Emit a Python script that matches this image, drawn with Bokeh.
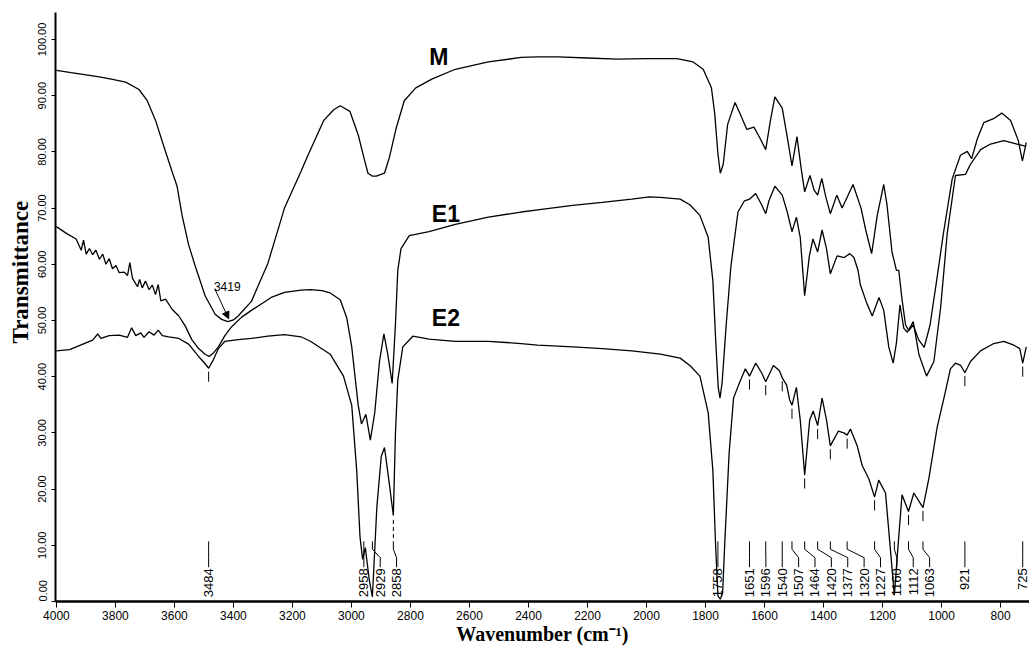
import math
from bokeh.plotting import figure
from bokeh.models import Range1d, FixedTicker, NumeralTickFormatter, Label, Arrow, NormalHead, Title
from bokeh.embed import file_html
from bokeh.resources import INLINE
from bokeh.core.properties import value

# ---------------- data ----------------
m_wn = [4000, 3950, 3899, 3850, 3810, 3765, 3720, 3692, 3664, 3636, 3608, 3591, 3574, 3552, 3529, 3496,
        3462, 3440, 3419, 3400, 3384, 3339, 3283, 3227, 3171, 3150, 3094, 3060, 3038, 3005, 2977, 2955,
        2944, 2930, 2916, 2888, 2871, 2848, 2821, 2782, 2726, 2648, 2536, 2425, 2369, 2300, 2200, 2100,
        2000, 1953, 1897, 1842, 1808, 1780, 1769, 1758, 1750, 1740, 1725, 1700, 1684, 1660, 1636, 1614,
        1596, 1580, 1565, 1540, 1522, 1507, 1490, 1476, 1464, 1446, 1432, 1420, 1406, 1392, 1377, 1355,
        1337, 1300, 1273, 1257, 1237, 1218, 1196, 1185, 1168, 1153, 1145, 1134, 1122, 1111, 1096, 1078,
        1059, 1039, 1017, 994, 964, 936, 913, 898, 879, 857, 824, 796, 766, 740, 726, 713]
m_t = [94.5, 94.1, 93.7, 93.3, 92.9, 92.4, 91.1, 89.1, 85.6, 81.0, 76.5, 73.9, 68.7, 63.5, 59.6, 54.4,
       51.1, 50.2, 49.8, 50.1, 50.8, 53.4, 60.2, 70.0, 76.5, 79.1, 85.6, 87.5, 88.2, 87.2, 83.0, 78.4,
       76.2, 75.7, 75.7, 76.2, 79.1, 84.3, 89.1, 91.4, 93.0, 94.7, 96.0, 96.8, 96.9, 96.9, 96.7, 96.5,
       96.6, 96.6, 96.6, 96.0, 94.7, 91.4, 86.9, 79.7, 76.2, 77.8, 84.9, 88.8, 86.9, 84.0, 84.4, 82.3,
       80.4, 85.6, 89.8, 87.8, 82.3, 77.5, 82.7, 77.1, 72.9, 75.8, 73.2, 72.3, 75.3, 71.9, 69.0, 72.3,
       70.0, 74.2, 70.0, 66.1, 61.9, 68.7, 74.2, 70.6, 62.2, 58.9, 58.9, 53.7, 49.2, 48.2, 49.2, 46.6,
       45.2, 49.2, 57.0, 65.4, 75.2, 79.4, 80.1, 78.8, 82.3, 85.2, 85.9, 86.9, 85.6, 82.0, 78.4, 81.7]

e1_wn = [4000, 3966, 3933, 3916, 3908, 3899, 3888, 3877, 3866, 3854, 3843, 3832, 3821, 3810, 3798, 3787,
         3770, 3759, 3751, 3742, 3725, 3718, 3709, 3698, 3686, 3675, 3664, 3655, 3646, 3630, 3608, 3585,
         3563, 3541, 3518, 3496, 3482, 3468, 3451, 3429, 3406, 3372, 3339, 3272, 3227, 3171, 3139, 3100,
         3072, 3038, 3016, 2999, 2988, 2977, 2966, 2951, 2936, 2921, 2905, 2890, 2877, 2862, 2851, 2843,
         2832, 2804, 2737, 2648, 2536, 2425, 2369, 2250, 2150, 2050, 1990, 1953, 1886, 1853, 1819, 1791,
         1775, 1765, 1757, 1751, 1744, 1730, 1714, 1690, 1668, 1650, 1630, 1610, 1596, 1585, 1565, 1540,
         1523, 1507, 1492, 1479, 1464, 1448, 1436, 1420, 1405, 1390, 1377, 1354, 1330, 1311, 1297, 1283,
         1275, 1253, 1235, 1212, 1196, 1179, 1164, 1153, 1141, 1128, 1116, 1096, 1077, 1051, 1026, 1003,
         981, 953, 919, 902, 868, 834, 789, 744, 713]
e1_t = [66.7, 65.5, 64.5, 62.5, 64.3, 61.8, 62.8, 61.7, 62.5, 60.9, 61.8, 60.0, 61.0, 59.2, 59.8, 58.5,
        58.6, 58.0, 60.3, 57.5, 56.0, 57.3, 55.8, 57.0, 55.5, 56.3, 54.6, 56.4, 53.5, 53.8, 52.0, 50.8,
        49.0, 46.6, 45.0, 44.0, 43.6, 44.2, 45.3, 47.3, 48.9, 50.6, 51.8, 54.1, 55.0, 55.4, 55.5, 55.3,
        54.9, 53.7, 50.5, 45.3, 40.1, 34.9, 31.6, 33.3, 28.7, 33.6, 42.7, 47.6, 44.0, 38.8, 49.2, 58.9,
        62.8, 65.1, 65.8, 67.1, 68.4, 69.3, 69.7, 70.5, 71.0, 71.6, 72.0, 71.9, 71.6, 70.6, 68.7, 64.8,
        57.0, 45.9, 38.1, 36.2, 38.8, 49.2, 59.6, 69.3, 71.3, 71.6, 72.6, 70.6, 69.0, 71.3, 73.9, 72.3,
        69.3, 65.8, 68.4, 64.8, 54.4, 61.5, 64.5, 62.2, 66.1, 62.8, 58.3, 61.5, 61.2, 61.9, 61.2, 58.9,
        56.3, 53.0, 50.8, 54.1, 51.8, 45.3, 42.4, 46.0, 52.8, 48.6, 47.9, 49.8, 44.0, 40.1, 42.7, 52.4,
        65.4, 75.8, 76.0, 77.8, 80.4, 81.4, 82.0, 81.4, 81.0]

e2_wn = [4000, 3955, 3910, 3877, 3860, 3849, 3821, 3787, 3759, 3745, 3731, 3714, 3703, 3686, 3669, 3655,
         3641, 3619, 3585, 3552, 3518, 3496, 3484, 3468, 3451, 3429, 3384, 3339, 3283, 3227, 3171, 3139,
         3072, 3027, 2999, 2982, 2971, 2962, 2953, 2940, 2929, 2914, 2899, 2888, 2874, 2858, 2851, 2843,
         2826, 2792, 2737, 2648, 2536, 2425, 2369, 2250, 2150, 2050, 1953, 1886, 1853, 1819, 1791, 1775,
         1766, 1758, 1750, 1742, 1735, 1720, 1705, 1688, 1665, 1651, 1630, 1610, 1596, 1570, 1550, 1540,
         1525, 1515, 1507, 1492, 1479, 1464, 1447, 1435, 1420, 1405, 1390, 1377, 1350, 1331, 1320, 1309,
         1286, 1269, 1247, 1227, 1213, 1190, 1175, 1160, 1150, 1134, 1112, 1094, 1063, 1043, 1015, 992,
         970, 953, 935, 921, 902, 868, 823, 789, 755, 735, 725, 713]
e2_t = [44.6, 44.8, 45.8, 46.5, 47.6, 46.8, 47.3, 47.4, 47.0, 48.7, 47.3, 47.8, 47.0, 48.0, 47.4, 48.3,
        47.3, 47.1, 46.8, 45.8, 43.6, 42.3, 41.5, 43.0, 45.0, 46.3, 46.6, 46.8, 47.2, 47.5, 47.1, 46.3,
        44.0, 40.1, 34.9, 23.2, 11.5, 7.5, 9.6, 4.0, 0.8, 16.7, 25.8, 27.4, 21.9, 15.3, 29.7, 39.4,
        45.3, 47.2, 46.7, 46.3, 46.3, 45.9, 45.6, 45.3, 45.0, 44.6, 44.0, 43.3, 42.0, 40.1, 33.6, 23.2,
        10.2, 1.0, 0.4, 1.5, 10.2, 26.4, 36.2, 38.5, 41.4, 40.1, 42.4, 40.7, 39.1, 42.0, 41.1, 39.8,
        38.5, 35.9, 34.9, 38.1, 32.3, 22.5, 32.3, 33.9, 31.3, 36.2, 32.3, 27.7, 30.3, 30.0, 29.6, 30.7,
        27.7, 24.2, 21.9, 18.6, 21.6, 19.3, 10.2, 1.1, 8.2, 19.0, 16.0, 19.3, 16.7, 21.9, 31.0, 36.2,
        41.4, 42.4, 42.0, 40.7, 42.7, 44.6, 45.9, 46.3, 45.6, 45.0, 42.4, 45.3]

# labelled peaks (cm-1), grouped as in the figure
peak_groups = [[3484], [2958, 2929, 2858],
               [1758], [1651, 1596, 1540, 1507, 1464, 1420, 1377, 1320, 1227, 1160, 1112, 1063],
               [921], [725]]
# small markers under the E2 minima
marker_wn = [3484, 1651, 1596, 1540, 1507, 1464, 1420, 1377, 1320, 1227, 1112, 1063, 921, 725]
marker_t = [41.5, 40.1, 39.1, 39.8, 34.9, 22.5, 31.3, 27.7, 29.6, 18.6, 16.0, 16.7, 40.7, 42.4]
long_marker_wn = [2858]
long_marker_t = [15.3]

series_names = ["M", "E1", "E2"]
series_label_wn = [2704, 2680, 2680]
series_label_t = [96.8, 69.0, 50.5]

x_ticks = list(range(4000, 799, -200))
y_ticks = list(range(0, 101, 10))

# ---------------- figure ----------------
p = figure(width=1029, height=650, x_range=Range1d(4003, 702), y_range=Range1d(0, 104.8),
           output_backend="svg", toolbar_location=None,
           min_border_left=55, min_border_right=0, min_border_top=12, min_border_bottom=49)
p.outline_line_color = None
p.xgrid.visible = False
p.ygrid.visible = False
p.background_fill_color = "white"
p.border_fill_color = "white"

for wn, t in [(m_wn, m_t), (e1_wn, e1_t), (e2_wn, e2_t)]:
    p.line(wn, t, line_color="black", line_width=1.3)

# peak labels with leader lines
spacing = 55.5
lx, ly, lab_x, lab_txt = [], [], [], []
for grp in peak_groups:
    prev = None
    for pk in grp:
        pos = pk if prev is None else min(pk, prev - spacing)
        prev = pos
        lx.append([pk, pk, pos, pos])
        ly.append([10.7, 9.3, 7.8, 6.1])
        lab_x.append(pos)
        lab_txt.append(str(pk))
p.multi_line(lx, ly, line_color="black", line_width=1)
p.text(x=lab_x, y=[5.9] * len(lab_x), text=lab_txt, angle=math.pi / 2,
       text_align="right", text_baseline="middle", text_font=value("Liberation Sans"),
       text_font_size="13px", text_color="black")

p.segment(x0=marker_wn, y0=[t - 0.6 for t in marker_t], x1=marker_wn, y1=[t - 2.4 for t in marker_t],
          line_color="black", line_width=1)
p.segment(x0=long_marker_wn, y0=[t - 0.8 for t in long_marker_t], x1=long_marker_wn, y1=[10.7],
          line_color="black", line_width=1, line_dash="4 3")

# series names
p.text(x=series_label_wn, y=series_label_t, text=series_names, text_align="center",
       text_baseline="middle", text_font=value("Liberation Sans"), text_font_style="bold",
       text_font_size="23px", text_color="black")

# 3419 annotation
p.add_layout(Label(x=3466, y=56.0, text="3419", text_align="left", text_baseline="alphabetic",
                   text_font="Liberation Sans", text_font_size="12px", text_color="black"))
p.add_layout(Arrow(x_start=3463, y_start=55.6, x_end=3416, y_end=50.3, line_width=1, line_color="black",
                   end=NormalHead(size=7, fill_color="black", line_color="black")))

# axes
p.xaxis.ticker = FixedTicker(ticks=x_ticks)
p.yaxis.ticker = FixedTicker(ticks=y_ticks)
p.yaxis.formatter = NumeralTickFormatter(format="0.00")
# lowest label sits above its tick, as in the original
p.yaxis.major_label_overrides = {y_ticks[0]: "\u00a0" * 7 + f"{y_ticks[0]:.2f}"}
for ax in (p.xaxis[0], p.yaxis[0]):
    ax.minor_tick_line_color = None
    ax.major_tick_in = 0
    ax.axis_line_color = "black"
    ax.major_tick_line_color = "black"
    ax.major_label_text_color = "black"
    ax.major_label_text_font = "Liberation Sans"
    ax.axis_label_text_color = "black"
    ax.axis_label_text_font = "Liberation Serif"
    ax.axis_label_text_font_style = "bold"
p.xaxis.axis_line_width = 2.5
p.yaxis.axis_line_width = 2
p.xaxis.major_tick_out = 6
p.yaxis.major_tick_out = 4
p.xaxis.major_label_text_font_size = "12px"
p.yaxis.major_label_text_font_size = "11px"
p.yaxis.major_label_orientation = "vertical"
p.xaxis.major_label_standoff = 3
p.yaxis.major_label_standoff = 3
p.xaxis.axis_label = "Wavenumber (cm\u207b\u00b9)"
p.xaxis.axis_label_text_font_size = "20px"
p.xaxis.axis_label_standoff = 0

p.add_layout(Title(text="Transmittance", align="left", offset=258, standoff=2,
                   text_font="Liberation Serif", text_font_style="bold", text_font_size="23px",
                   text_color="black"), "left")

open("out.html", "w").write(file_html(p, INLINE))
